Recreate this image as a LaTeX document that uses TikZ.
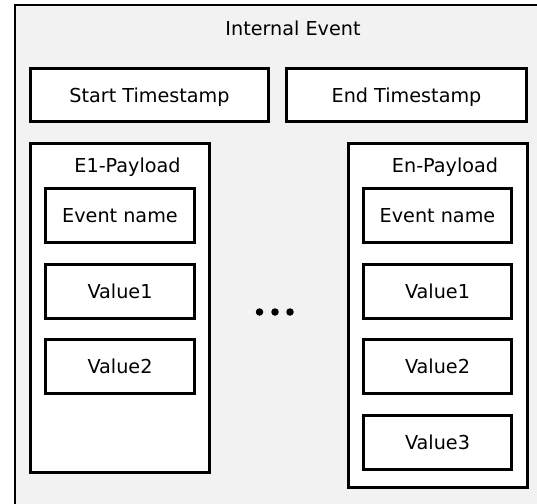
\documentclass[tikz,border=0pt]{standalone}
\usepackage{fontspec}
\setmainfont{DejaVu Sans}
\begin{document}
\begin{tikzpicture}[x=1pt,y=-1pt,
  every node/.style={font=\fontsize{19.2}{22}\selectfont, inner sep=0pt, text height=14pt, text depth=0pt},
  box/.style={draw=black, fill=white, line width=3pt, rectangle},
  dotc/.style={circle, fill=black, minimum size=7.5pt, text height=, text depth=}]
\useasboundingbox (0,0) rectangle (537,503);
\clip (0,0) rectangle (537,503);
\fill[white] (0,0) rectangle (537,503);
\draw[fill={rgb,255:red,242;green,242;blue,242}, line width=2pt] (15,5.5) rectangle (560,530);
\node (title) at (293,29) {Internal Event};
\node[box, minimum width=238pt, minimum height=53pt] (start) at (149.5,95) {Start Timestamp};
\node[box, minimum width=240pt, minimum height=53pt] (end) at (406.5,95) {End Timestamp};
% E1 payload
\node[box, minimum width=179pt, minimum height=329pt] (e1) at (120,308) {};
\node (e1lab) at (127.5,165) {E1-Payload};
\node[box, minimum width=149pt, minimum height=54pt] (e1name) at (120,215.5) {Event name};
\node[box, minimum width=149pt, minimum height=54pt] (e1v1) at (120,291) {Value1};
\node[box, minimum width=149pt, minimum height=54pt] (e1v2) at (120,366.5) {Value2};
% En payload
\node[box, minimum width=179pt, minimum height=344pt] (en) at (437.5,315.5) {};
\node (enlab) at (445,165) {En-Payload};
\node[box, minimum width=148pt, minimum height=54pt] (enname) at (437.5,215.5) {Event name};
\node[box, minimum width=148pt, minimum height=54pt] (env1) at (437.5,291) {Value1};
\node[box, minimum width=148pt, minimum height=54pt] (env2) at (437.5,366.5) {Value2};
\node[box, minimum width=148pt, minimum height=54pt] (env3) at (437.5,442) {Value3};
% dots
\node[dotc] (d1) at (259.5,312) {};
\node[dotc] (d2) at (275,312) {};
\node[dotc] (d3) at (290,312) {};
\end{tikzpicture}
\end{document}
